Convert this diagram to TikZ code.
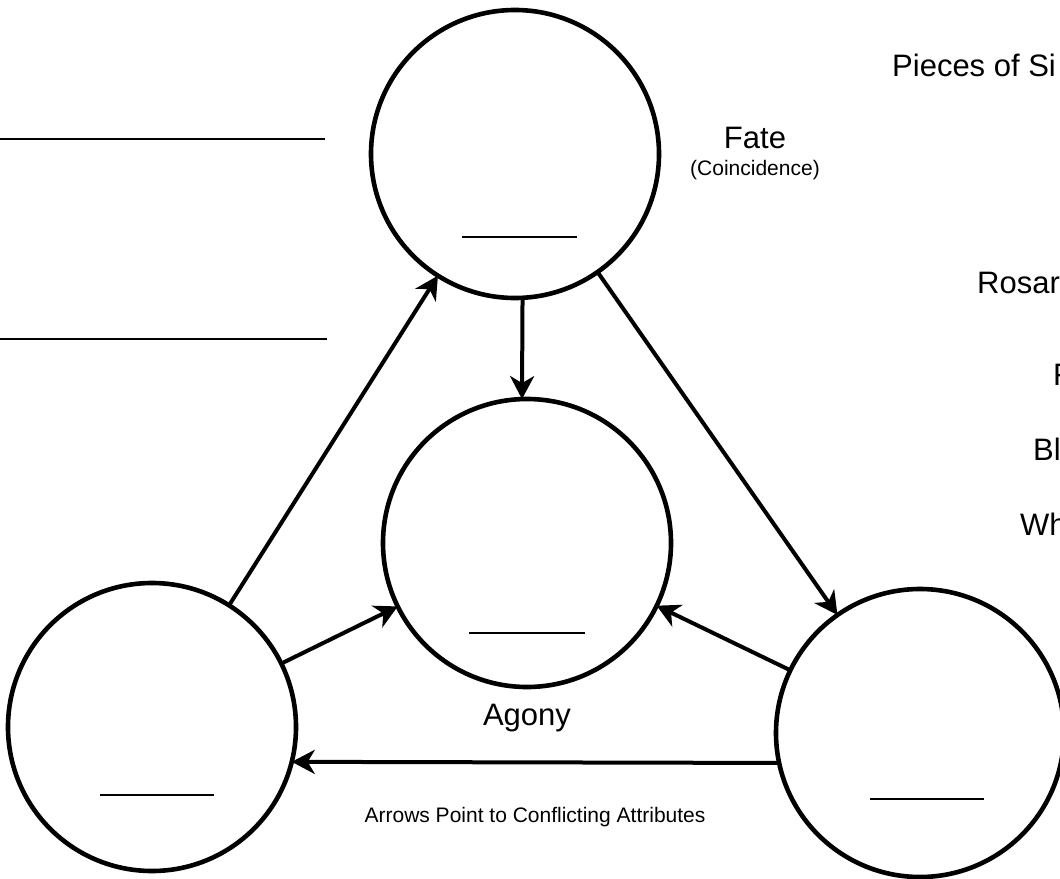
\documentclass[tikz,border=0pt]{standalone}
\usepackage{fontspec}
\setmainfont{Liberation Sans}
\usetikzlibrary{arrows.meta,calc}
\begin{document}
\begin{tikzpicture}[x=1pt,y=-1pt,
  ring/.style={circle,draw,line width=4.6pt,inner sep=0pt,outer sep=0pt,minimum size=288pt},
  arr/.style={line width=4pt,-{Stealth[length=23pt,width=24pt,inset=7pt]}},
  blank/.style={line width=2pt},
  big/.style={font=\fontsize{31}{36}\selectfont,inner sep=0pt},
  small/.style={font=\fontsize{21}{25}\selectfont,inner sep=0pt}]
\useasboundingbox (0,0) rectangle (1060,878);
\clip (0,0) rectangle (1060,878);
% circles
\node[ring] (F) at (515,154) {};
\node[ring] (A) at (527,543) {};
\node[ring] (L) at (152,727) {};
\node[ring] (R) at (920,733) {};
% blanks in circles
\draw[blank] (462,237) -- (577,237);
\draw[blank] (469,633) -- (585,633);
\draw[blank] (100,795) -- (214,795);
\draw[blank] (870,799) -- (984,799);
% left lines
\draw[blank] (0,139) -- (325,139);
\draw[blank] (0,339) -- (327,339);
% arrows
\draw[arr] (F.-87) -- (A.92);
\draw[arr] (L) -- (F);
\draw[arr] (F) -- (R);
\draw[arr] (L) -- (A);
\draw[arr] (R) -- (A);
\draw[arr] (R.192.4) -- (L.-14.8);
% texts
\node[big,anchor=base] (fate) at (755,148) {Fate};
\node[small,anchor=base] (coin) at (755,175) {(Coincidence)};
\node[big,anchor=base] (agony) at (527,725) {Agony};
\node[small,anchor=base] (note) at (535,822) {Arrows Point to Conflicting Attributes};
\node[big,anchor=base west] (t1) at (892,76) {Pieces of Si};
\node[big,anchor=base west] (t2) at (977,293) {Rosar};
\node[big,anchor=base west] (t3) at (1053,385) {F};
\node[big,anchor=base west] (t4) at (1033,460) {Bl};
\node[big,anchor=base west] (t5) at (1020,535) {Wh};
\end{tikzpicture}
\end{document}
